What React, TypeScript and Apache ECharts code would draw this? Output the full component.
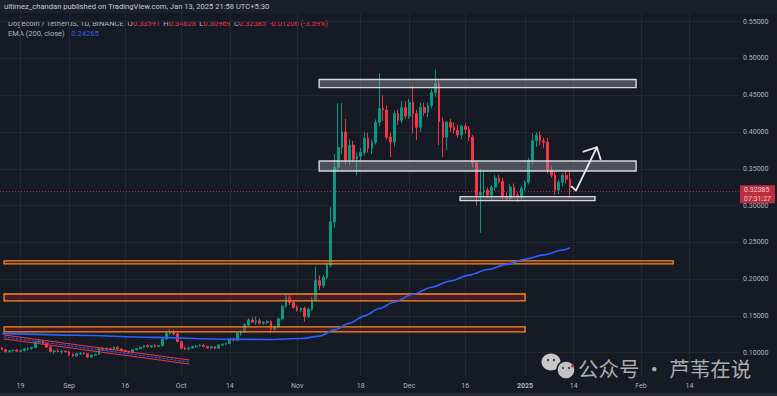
import React, { useEffect, useRef } from "react";
import * as echarts from "echarts";

// ---------- DATA ----------
const startDateUTC = Date.UTC(2024, 7, 14); // first category: 2024-08-14
const dayCount = 198; // categories on the time scale (to late Feb 2025)

// daily candles [open, high, low, close], 2024-08-14 .. 2025-01-13
const ohlc: number[][] = [
  [0.1065, 0.1080, 0.1035, 0.1040], [0.1040, 0.1055, 0.1000, 0.1015], [0.1015, 0.1035, 0.1000, 0.1025],
  [0.1025, 0.1045, 0.1015, 0.1035], [0.1035, 0.1050, 0.1010, 0.1020], [0.1020, 0.1040, 0.1005, 0.1030],
  [0.1030, 0.1065, 0.1015, 0.1050], [0.1050, 0.1075, 0.1030, 0.1060], [0.1060, 0.1080, 0.1040, 0.1070],
  [0.1070, 0.1165, 0.1060, 0.1150], [0.1150, 0.1180, 0.1130, 0.1155], [0.1155, 0.1170, 0.1115, 0.1125],
  [0.1125, 0.1135, 0.1065, 0.1075], [0.1075, 0.1090, 0.1005, 0.1015], [0.1015, 0.1040, 0.0985, 0.1025],
  [0.1025, 0.1055, 0.1005, 0.1015], [0.1015, 0.1030, 0.0985, 0.1020], [0.1020, 0.1030, 0.1005, 0.1012],
  [0.1012, 0.1025, 0.0955, 0.0975], [0.0975, 0.0995, 0.0945, 0.0955], [0.0955, 0.0995, 0.0950, 0.0985],
  [0.0985, 0.1010, 0.0970, 0.0995], [0.0995, 0.1005, 0.0975, 0.0985], [0.0985, 0.0990, 0.0925, 0.0940],
  [0.0940, 0.0975, 0.0935, 0.0965], [0.0965, 0.0985, 0.0955, 0.0975], [0.0975, 0.1070, 0.0970, 0.1060],
  [0.1060, 0.1075, 0.1030, 0.1045], [0.1045, 0.1070, 0.1030, 0.1055], [0.1055, 0.1070, 0.1030, 0.1045],
  [0.1045, 0.1085, 0.1035, 0.1075], [0.1075, 0.1085, 0.1040, 0.1050], [0.1050, 0.1060, 0.1015, 0.1030],
  [0.1030, 0.1040, 0.1000, 0.1015], [0.1015, 0.1030, 0.0990, 0.1005], [0.1005, 0.1050, 0.0995, 0.1040],
  [0.1040, 0.1065, 0.1030, 0.1055], [0.1055, 0.1085, 0.1045, 0.1075], [0.1075, 0.1105, 0.1060, 0.1095],
  [0.1095, 0.1110, 0.1070, 0.1080], [0.1080, 0.1105, 0.1065, 0.1095], [0.1095, 0.1115, 0.1070, 0.1085],
  [0.1085, 0.1105, 0.1075, 0.1095], [0.1095, 0.1195, 0.1085, 0.1185], [0.1185, 0.1295, 0.1175, 0.1265],
  [0.1265, 0.1330, 0.1245, 0.1275], [0.1275, 0.1310, 0.1235, 0.1255], [0.1255, 0.1270, 0.1140, 0.1150],
  [0.1150, 0.1165, 0.1040, 0.1060], [0.1060, 0.1085, 0.1035, 0.1050], [0.1050, 0.1075, 0.1030, 0.1065],
  [0.1065, 0.1095, 0.1055, 0.1085], [0.1085, 0.1100, 0.1065, 0.1090], [0.1090, 0.1115, 0.1075, 0.1100],
  [0.1100, 0.1120, 0.1075, 0.1085], [0.1085, 0.1095, 0.1055, 0.1065], [0.1065, 0.1090, 0.1050, 0.1080],
  [0.1080, 0.1090, 0.1050, 0.1060], [0.1060, 0.1115, 0.1050, 0.1105], [0.1105, 0.1125, 0.1090, 0.1115],
  [0.1115, 0.1135, 0.1100, 0.1125], [0.1125, 0.1195, 0.1115, 0.1185], [0.1185, 0.1205, 0.1155, 0.1170],
  [0.1170, 0.1290, 0.1160, 0.1270], [0.1270, 0.1310, 0.1230, 0.1285], [0.1285, 0.1395, 0.1270, 0.1375],
  [0.1375, 0.1470, 0.1360, 0.1445], [0.1445, 0.1480, 0.1400, 0.1415], [0.1415, 0.1490, 0.1380, 0.1435],
  [0.1435, 0.1465, 0.1385, 0.1400], [0.1400, 0.1430, 0.1380, 0.1410], [0.1410, 0.1440, 0.1390, 0.1425],
  [0.1425, 0.1440, 0.1270, 0.1315], [0.1315, 0.1370, 0.1300, 0.1355], [0.1355, 0.1475, 0.1345, 0.1460],
  [0.1460, 0.1650, 0.1445, 0.1630], [0.1630, 0.1790, 0.1610, 0.1760], [0.1760, 0.1790, 0.1650, 0.1685],
  [0.1685, 0.1710, 0.1600, 0.1615], [0.1615, 0.1640, 0.1560, 0.1580], [0.1580, 0.1615, 0.1555, 0.1605],
  [0.1605, 0.1625, 0.1420, 0.1490], [0.1490, 0.1610, 0.1470, 0.1590], [0.1590, 0.1760, 0.1570, 0.1720],
  [0.1720, 0.2170, 0.1690, 0.1980], [0.1980, 0.2050, 0.1850, 0.1915], [0.1915, 0.2060, 0.1880, 0.2025],
  [0.2025, 0.2230, 0.1995, 0.2190], [0.2190, 0.2980, 0.2160, 0.2780], [0.2780, 0.3700, 0.2700, 0.3520],
  [0.3520, 0.4390, 0.3480, 0.3790], [0.3790, 0.4390, 0.3700, 0.4000], [0.4000, 0.4180, 0.3560, 0.3620],
  [0.3620, 0.3900, 0.3550, 0.3820], [0.3820, 0.3880, 0.3600, 0.3630], [0.3630, 0.3720, 0.3410, 0.3670],
  [0.3670, 0.3780, 0.3600, 0.3725], [0.3725, 0.4000, 0.3680, 0.3915], [0.3915, 0.3990, 0.3720, 0.3780],
  [0.3780, 0.3900, 0.3700, 0.3860], [0.3860, 0.4170, 0.3830, 0.4131], [0.4131, 0.4800, 0.4080, 0.4320],
  [0.4320, 0.4500, 0.4150, 0.4300], [0.4300, 0.4360, 0.3900, 0.3930], [0.3930, 0.3990, 0.3660, 0.3865],
  [0.3865, 0.4290, 0.3800, 0.4250], [0.4250, 0.4300, 0.4100, 0.4160], [0.4160, 0.4420, 0.4120, 0.4330],
  [0.4330, 0.4420, 0.4180, 0.4215], [0.4215, 0.4450, 0.4180, 0.4400], [0.4400, 0.4630, 0.3980, 0.4250],
  [0.4250, 0.4300, 0.3890, 0.4064], [0.4064, 0.4400, 0.4000, 0.4335], [0.4335, 0.4400, 0.4220, 0.4267],
  [0.4267, 0.4400, 0.4200, 0.4362], [0.4362, 0.4580, 0.4320, 0.4538], [0.4538, 0.4850, 0.4480, 0.4660],
  [0.4660, 0.4700, 0.3820, 0.4140], [0.4140, 0.4200, 0.3660, 0.3930], [0.3930, 0.4150, 0.3750, 0.4131],
  [0.4131, 0.4180, 0.4000, 0.4064], [0.4064, 0.4130, 0.3980, 0.4023], [0.4023, 0.4100, 0.3920, 0.3960],
  [0.3960, 0.4100, 0.3900, 0.4080], [0.4080, 0.4120, 0.3980, 0.4037], [0.4037, 0.4080, 0.3880, 0.3930],
  [0.3930, 0.3960, 0.3520, 0.3580], [0.3580, 0.3620, 0.3000, 0.3142], [0.3142, 0.3500, 0.2630, 0.3183],
  [0.3183, 0.3480, 0.3120, 0.3210], [0.3210, 0.3250, 0.3100, 0.3142], [0.3142, 0.3280, 0.3080, 0.3250],
  [0.3250, 0.3420, 0.3200, 0.3373], [0.3373, 0.3420, 0.3300, 0.3330], [0.3330, 0.3380, 0.3080, 0.3115],
  [0.3115, 0.3180, 0.3060, 0.3100], [0.3100, 0.3290, 0.3060, 0.3250], [0.3250, 0.3300, 0.3100, 0.3142],
  [0.3142, 0.3180, 0.3050, 0.3110], [0.3110, 0.3270, 0.3080, 0.3237], [0.3237, 0.3340, 0.3200, 0.3318],
  [0.3318, 0.3650, 0.3290, 0.3617], [0.3617, 0.3980, 0.3560, 0.3880], [0.3880, 0.4000, 0.3800, 0.3955],
  [0.3955, 0.4010, 0.3820, 0.3880], [0.3880, 0.3920, 0.3780, 0.3860], [0.3860, 0.3920, 0.3440, 0.3481],
  [0.3481, 0.3540, 0.3380, 0.3413], [0.3413, 0.3460, 0.3140, 0.3210], [0.3210, 0.3350, 0.3150, 0.3318],
  [0.3318, 0.3440, 0.3260, 0.3413], [0.3413, 0.3480, 0.3300, 0.33591], [0.33591, 0.34628, 0.30969, 0.32385],
];

// EMA(200, close): day index -> value
const emaDayIndex = [0, 20, 40, 60, 72, 80, 85, 89, 93, 97, 101, 105, 110, 115, 120, 125, 130, 135, 140, 145, 150, 152];
const emaValues = [0.1262, 0.1238, 0.1208, 0.1183, 0.1180, 0.1192, 0.1225, 0.1310, 0.1400, 0.1500, 0.1600, 0.1690,
  0.1795, 0.1890, 0.1975, 0.2055, 0.2130, 0.2200, 0.2270, 0.2330, 0.2395, 0.24265];
const emaLast = 0.24265;

// time-scale tick labels
const tickDates = ["2024-08-19", "2024-09-01", "2024-09-16", "2024-10-01", "2024-10-14", "2024-11-01", "2024-11-18",
  "2024-12-01", "2024-12-16", "2025-01-01", "2025-01-14", "2025-02-01", "2025-02-14"];
const tickLabels = ["19", "Sep", "16", "Oct", "14", "Nov", "18", "Dec", "16", "2025", "14", "Feb", "14"];

// drawings (day index, price)
const whiteZones = [
  { x1: 84.9, x2: 169.7, hi: 0.4714, lo: 0.4603 },
  { x1: 84.9, x2: 169.7, hi: 0.3606, lo: 0.3470 },
  { x1: 122.6, x2: 158.7, hi: 0.3121, lo: 0.3067 },
];
const orangeZones = [
  { x1: 0.6, x2: 179.6, hi: 0.2247, lo: 0.2206 },
  { x1: 0.6, x2: 140.0, hi: 0.1798, lo: 0.1703 },
  { x1: 0.6, x2: 140.0, hi: 0.1350, lo: 0.1282 },
];
const channelUpper = [[0.57, 0.1241], [50.1, 0.0901]];
const channelLower = [[0.57, 0.1187], [50.1, 0.0846]];
const channelMid = [[0.57, 0.1214], [50.1, 0.0874]];
const arrowShaft = [[152.5, 0.3257], [153.6, 0.3203], [159.2, 0.3793]];
const arrowHead = [[155.6, 0.3733], [159.2, 0.3793], [160.2, 0.3629]];

const headerText = "ultimez_chandan published on TradingView.com, Jan 13, 2025 21:58 UTC+5:30";
const symbolText = "Dogecoin / TetherUS, 1D, BINANCE";
const countdownText = "07:31:27";
const watermarkText = "公众号 · 芦苇在说";

// ---------- CHART ----------
const UP = "#089981";
const DOWN = "#f23645";
const BG = "#161a25";
const GRID = "#232733";
const AXIS_TXT = "#b2b5be";
const FONT = "Roboto, 'DejaVu Sans', sans-serif";

function buildCategories(): string[] {
  const out: string[] = [];
  for (let k = 0; k < dayCount; k++) out.push(new Date(startDateUTC + k * 86400000).toISOString().slice(0, 10));
  return out;
}

export default function App() {
  const ref = useRef<HTMLDivElement>(null);

  useEffect(() => {
    if (!ref.current) return;
    const chart = echarts.init(ref.current, null, { renderer: "svg" });
    const categories = buildCategories();
    const tickSet = new Set(tickDates);
    const tickIdx = tickDates.map((d) => categories.indexOf(d));

    const last = ohlc[ohlc.length - 1];
    const prevClose = ohlc[ohlc.length - 2][3];
    const chg = last[3] - prevClose;
    const pct = (chg / prevClose) * 100;
    const f5 = (v: number) => v.toFixed(5);

    const candleData = ohlc.map(([o, h, l, c]) => [o, c, l, h]);
    const emaData = emaDayIndex.map((d, k) => [d, emaValues[k]]);

    const zoneData = [
      ...orangeZones.map((z) => [
        { coord: [z.x1, z.hi], itemStyle: { color: "rgba(150,25,45,0.40)", borderColor: "#f0901d", borderWidth: 1.3 } },
        { coord: [z.x2, z.lo] },
      ]),
      ...whiteZones.map((z) => [
        { coord: [z.x1, z.hi], itemStyle: { color: "rgba(150,152,165,0.42)", borderColor: "#d6d8de", borderWidth: 1.4 } },
        { coord: [z.x2, z.lo] },
      ]),
    ];

    const lineSeries = (data: number[][], color: string, width: number, type: any = "solid") => ({
      type: "line",
      xAxisIndex: 1,
      yAxisIndex: 0,
      data,
      symbol: "none",
      silent: true,
      z: 4,
      lineStyle: { color, width, type, cap: "round", join: "round" },
    });

    const LEG = 7.5;
    const legendRich = {
      g: { fill: AXIS_TXT, fontSize: LEG, fontFamily: FONT },
      r: { fill: DOWN, fontSize: LEG, fontFamily: FONT },
      b: { fill: "#2962ff", fontSize: LEG, fontFamily: FONT },
    };

    const option: any = {
      animation: false,
      backgroundColor: BG,
      grid: { left: 0, right: 37, top: 13, bottom: 20 },
      xAxis: [
        {
          type: "category",
          data: categories,
          boundaryGap: true,
          axisLine: { show: false },
          axisTick: { show: false },
          splitLine: { show: false },
          axisLabel: {
            interval: (_i: number, v: string) => tickSet.has(v),
            formatter: (v: string) => {
              const lab = tickLabels[tickDates.indexOf(v)];
              return lab === "2025" ? "{y|" + lab + "}" : lab;
            },
            color: AXIS_TXT,
            fontSize: 7,
            fontFamily: FONT,
            margin: 6,
            rich: { y: { color: AXIS_TXT, fontSize: 7, fontWeight: "bold", fontFamily: FONT } },
          },
        },
        { type: "value", min: -0.5, max: dayCount - 0.5, show: false },
      ],
      yAxis: {
        type: "value",
        position: "right",
        min: 0.0683,
        max: 0.5618,
        splitNumber: 10,
        axisLine: { show: false },
        axisTick: { show: false },
        axisLabel: {
          showMinLabel: false,
          showMaxLabel: false,
          formatter: (v: number) => v.toFixed(5),
          color: AXIS_TXT,
          fontSize: 7,
          lineHeight: 7,
          fontFamily: FONT,
          margin: 3,
        },
        splitLine: { show: true, showMinLine: false, showMaxLine: false, lineStyle: { color: GRID, width: 1 } },
      },
      series: [
        {
          type: "line",
          xAxisIndex: 1,
          data: [],
          silent: true,
          z: 0,
          markLine: {
            silent: true,
            z: 0,
            symbol: ["none", "none"],
            label: { show: false },
            lineStyle: { color: GRID, width: 1, type: "solid" },
            data: tickIdx.map((i) => ({ xAxis: i })),
          },
        },
        {
          type: "candlestick",
          xAxisIndex: 0,
          data: candleData,
          barWidth: 2.2,
          silent: true,
          z: 2,
          itemStyle: { color: UP, color0: DOWN, borderColor: UP, borderColor0: DOWN, borderWidth: 1 },
          markLine: {
            silent: true,
            z: 6,
            symbol: ["none", "none"],
            data: [
              {
                yAxis: last[3],
                lineStyle: { color: DOWN, width: 1, type: [1, 2], opacity: 0.75 },
                label: {
                  show: true,
                  position: "end",
                  distance: 0,
                  offset: [0, 3.5],
                  formatter: f5(last[3]) + "\n" + countdownText,
                  backgroundColor: DOWN,
                  color: "#ffffff",
                  fontSize: 7,
                  lineHeight: 8.5,
                  fontFamily: FONT,
                  padding: [0.5, 4, 0.5, 4],
                },
              },
            ],
          },
        },
        {
          type: "line",
          xAxisIndex: 1,
          data: [],
          silent: true,
          z: 3,
          markArea: { silent: true, z: 3, label: { show: false }, data: zoneData },
        },
        {
          type: "line",
          name: "EMA",
          xAxisIndex: 1,
          data: emaData,
          smooth: 0.3,
          smoothMonotone: "x",
          symbol: "none",
          silent: true,
          z: 4,
          lineStyle: { color: "#2962ff", width: 1.6 },
          markLine: {
            silent: true,
            z: 7,
            symbol: ["none", "none"],
            data: [
              {
                yAxis: emaLast,
                lineStyle: { opacity: 0, width: 0 },
                label: {
                  show: true,
                  position: "end",
                  distance: 0,
                  formatter: f5(emaLast),
                  backgroundColor: "#2962ff",
                  color: "#ffffff",
                  fontSize: 7,
                  lineHeight: 8,
                  fontFamily: FONT,
                  padding: [1, 4, 0, 4],
                },
              },
            ],
          },
        },
        lineSeries(channelUpper, "#f23645", 1),
        lineSeries(channelLower, "#f23645", 1),
        lineSeries(channelMid, "#2962ff", 1, [2, 2]),
        lineSeries(arrowShaft, "#e8e8ec", 1.8),
        lineSeries(arrowHead, "#e8e8ec", 1.8),
      ],
      graphic: [
        { type: "rect", shape: { x: 0, y: 0, width: 777, height: 13 }, style: { fill: "#1c202b" }, silent: true, z: -1 },
        { type: "rect", shape: { x: 0, y: 393, width: 777, height: 3 }, style: { fill: "#272b36" }, silent: true },
        {
          type: "text",
          x: 4,
          y: 6.5,
          silent: true,
          style: { text: headerText, fill: "#c8cad0", fontSize: 7.6, fontFamily: FONT, verticalAlign: "middle" },
        },
        {
          type: "text",
          x: 8,
          y: 23,
          silent: true,
          style: {
            text:
              "{g|" + symbolText + "  O}{r|" + f5(last[0]) + "} {g|H}{r|" + f5(last[1]) + "} {g|L}{r|" + f5(last[2]) +
              "} {g|C}{r|" + f5(last[3]) + "} {r|" + (chg < 0 ? "-" : "+") + Math.abs(chg).toFixed(5) + " (" +
              (pct < 0 ? "-" : "+") + Math.abs(pct).toFixed(2) + "%)}",
            rich: legendRich,
            verticalAlign: "middle",
          },
        },
        {
          type: "text",
          x: 8,
          y: 33.5,
          silent: true,
          style: {
            text: "{g|EMA (200, close)}  {b|" + f5(emaLast) + "}",
            rich: legendRich,
            verticalAlign: "middle",
          },
        },
        // watermark (WeChat icon + text)
        { type: "ellipse", shape: { cx: 551, cy: 362, rx: 9.5, ry: 8.5 }, style: { fill: "#c9c9cb" }, silent: true, z: 10 },
        { type: "circle", shape: { cx: 548, cy: 360, r: 1.2 }, style: { fill: "#3a3d46" }, silent: true, z: 11 },
        { type: "circle", shape: { cx: 554, cy: 360, r: 1.2 }, style: { fill: "#3a3d46" }, silent: true, z: 11 },
        { type: "circle", shape: { cx: 566, cy: 370, r: 9 }, style: { fill: "#c2c2c5", stroke: BG, lineWidth: 1.5 }, silent: true, z: 12 },
        { type: "circle", shape: { cx: 563, cy: 368, r: 1.1 }, style: { fill: "#3a3d46" }, silent: true, z: 13 },
        { type: "circle", shape: { cx: 569, cy: 368, r: 1.1 }, style: { fill: "#3a3d46" }, silent: true, z: 13 },
        { type: "circle", shape: { cx: 572.5, cy: 366, r: 1.6 }, style: { fill: "#e0303a" }, silent: true, z: 13 },
        {
          type: "text",
          x: 578,
          y: 367.5,
          silent: true,
          z: 10,
          style: {
            text: watermarkText,
            fill: "rgba(200,200,204,0.85)",
            fontSize: 20.5,
            lineHeight: 20,
            fontFamily: "'Noto Sans CJK SC', sans-serif",
            verticalAlign: "middle",
          },
        },
      ],
    };

    chart.setOption(option);
    return () => chart.dispose();
  }, []);

  return (
    <div
      ref={ref}
      style={{ position: "fixed", left: 0, top: 0, width: 777, height: 396 }}
    />
  );
}
